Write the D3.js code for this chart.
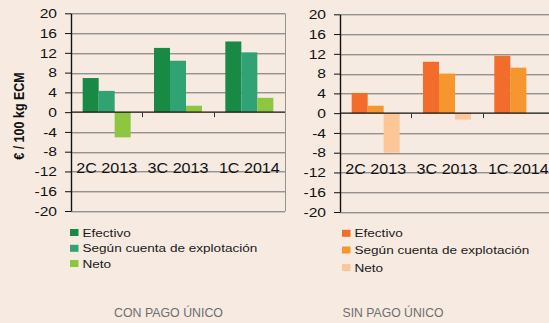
<!DOCTYPE html>
<html>
<head>
<meta charset="utf-8">
<script src="https://cdn.jsdelivr.net/npm/d3@7"></script>
<style>
  html, body { margin: 0; padding: 0; background: #f7eae1; }
  svg { display: block; }
  text { font-family: "Liberation Sans", Arial, Helvetica, sans-serif; }
</style>
</head>
<body>
<svg id="chart" width="549" height="323"></svg>
<script>
// Cost per 100 kg ECM by campaign, with and without the single payment
const categories = ["2C 2013", "3C 2013", "1C 2014"];
const seriesNames = ["Efectivo", "Según cuenta de explotación", "Neto"];

const conEfectivo = [6.9, 13.0, 14.3];
const conSegun    = [4.3, 10.4, 12.1];
const conNeto     = [-5.1, 1.3, 2.9];

const sinEfectivo = [4.1, 10.4, 11.6];
const sinSegun    = [1.5, 8.0, 9.2];
const sinNeto     = [-8.0, -1.3, 0];

const yTicks = [20, 16, 12, 8, 4, 0, -4, -8, -12, -16, -20];
const yDomain = [-20, 20];

const greenColors  = ["#188a44", "#30a273", "#8dc740"];
const orangeColors = ["#f26c2b", "#f7952f", "#fdc696"];

const svg = d3.select("#chart");

svg.append("rect").attr("width", 549).attr("height", 323).attr("fill", "#f7eae1");

function drawPanel(opts) {
  const { left, right, top, bottom, series, colors, frameRight, title, titleX, titleW, legendX, legendRows } = opts;
  const g = svg.append("g");

  const x = d3.scaleBand().domain(categories).range([left, right]);
  const y = d3.scaleLinear().domain(yDomain).range([bottom, top]);
  const y0 = y(0);

  // grid lines (dark line with a soft lighter line beneath)
  const grid = yTicks.filter(d => d !== 0);
  g.selectAll("line.gridLight").data(grid).join("line")
    .attr("x1", left).attr("x2", right)
    .attr("y1", d => Math.round(y(d)) + 1.5).attr("y2", d => Math.round(y(d)) + 1.5)
    .attr("stroke", "#cfc5bc").attr("stroke-width", 1);
  g.selectAll("line.grid").data(grid).join("line")
    .attr("x1", left).attr("x2", right)
    .attr("y1", d => Math.round(y(d)) + 0.5).attr("y2", d => Math.round(y(d)) + 0.5)
    .attr("stroke", "#939393").attr("stroke-width", 1);

  if (frameRight) {
    g.append("line")
      .attr("x1", right + 0.5).attr("x2", right + 0.5)
      .attr("y1", Math.round(y(20)) + 0.5).attr("y2", Math.round(y(-20)) + 0.5)
      .attr("stroke", "#939393");
  }

  // bars
  const barW = 16;
  const offset = (x.bandwidth() - barW * series.length) / 2;
  series.forEach((vals, si) => {
    g.selectAll(null).data(vals.map((v, i) => ({ c: categories[i], v }))).join("rect")
      .attr("x", d => x(d.c) + offset + si * barW)
      .attr("width", barW)
      .attr("y", d => Math.min(y(d.v), y0))
      .attr("height", d => Math.abs(y(d.v) - y0))
      .attr("fill", colors[si]);
  });

  // zero line
  g.append("line")
    .attr("x1", left).attr("x2", right)
    .attr("y1", y0).attr("y2", y0)
    .attr("stroke", "#111").attr("stroke-width", 1.4);

  // category separators below the zero line
  g.selectAll("line.sep").data(categories.slice(1)).join("line")
    .attr("x1", d => Math.round(x(d)) + 0.5).attr("x2", d => Math.round(x(d)) + 0.5)
    .attr("y1", y0).attr("y2", y0 + 5)
    .attr("stroke", "#333").attr("stroke-width", 1);

  // y axis
  const axis = d3.axisLeft(y).tickValues(yTicks).tickFormat(d => String(d))
    .tickSize(6).tickSizeOuter(0).tickPadding(8);
  const ag = g.append("g").attr("transform", `translate(${left},0)`).call(axis);
  ag.select(".domain").attr("stroke", "#111").attr("stroke-width", 1.4);
  ag.selectAll(".tick line").attr("stroke", "#111");
  ag.selectAll(".tick text")
    .attr("x", 0)
    .attr("transform", "translate(-14,0) scale(1.2,1)")
    .attr("font-size", 13)
    .attr("font-family", "Liberation Sans, Arial, sans-serif")
    .attr("fill", "#111");

  // category labels
  g.selectAll("text.cat").data(categories).join("text")
    .attr("transform", d => `translate(${x(d) + x.bandwidth() / 2},${y0 + 61}) scale(1.15,1)`)
    .attr("text-anchor", "middle")
    .attr("font-size", 14)
    .attr("fill", "#111")
    .text(d => d);

  // legend
  seriesNames.forEach((name, i) => {
    const ry = legendRows[i];
    g.append("rect")
      .attr("x", legendX).attr("y", ry - 3.5)
      .attr("width", 8.5).attr("height", 7)
      .attr("fill", colors[i]);
    g.append("text")
      .attr("transform", `translate(${legendX + 12.5},${ry + 4}) scale(1.18,1)`)
      .attr("font-size", 11.5)
      .attr("fill", "#1a1a1a")
      .text(name);
  });

  // panel title
  g.append("text")
    .attr("x", titleX).attr("y", 317)
    .attr("text-anchor", "middle")
    .attr("font-size", 13)
    .attr("fill", "#6e6e6e")
    .attr("textLength", titleW)
    .attr("lengthAdjust", "spacingAndGlyphs")
    .text(title);

  return g;
}

drawPanel({
  left: 71, right: 285, top: 13.3, bottom: 211,
  series: [conEfectivo, conSegun, conNeto],
  colors: greenColors,
  frameRight: true,
  title: "CON PAGO ÚNICO", titleX: 168.5, titleW: 109,
  legendX: 70, legendRows: [232.5, 248.3, 263.5]
});

drawPanel({
  left: 340, right: 554, top: 14.3, bottom: 212,
  series: [sinEfectivo, sinSegun, sinNeto],
  colors: orangeColors,
  frameRight: false,
  title: "SIN PAGO ÚNICO", titleX: 393, titleW: 101,
  legendX: 342, legendRows: [233.3, 250, 267.5]
});

// y axis title
svg.append("text")
  .attr("transform", "translate(24,116) rotate(-90) scale(1,1.12)")
  .attr("text-anchor", "middle")
  .attr("font-size", 12.5)
  .attr("font-weight", "bold")
  .attr("fill", "#111")
  .text("€ / 100 kg ECM");
</script>
</body>
</html>
